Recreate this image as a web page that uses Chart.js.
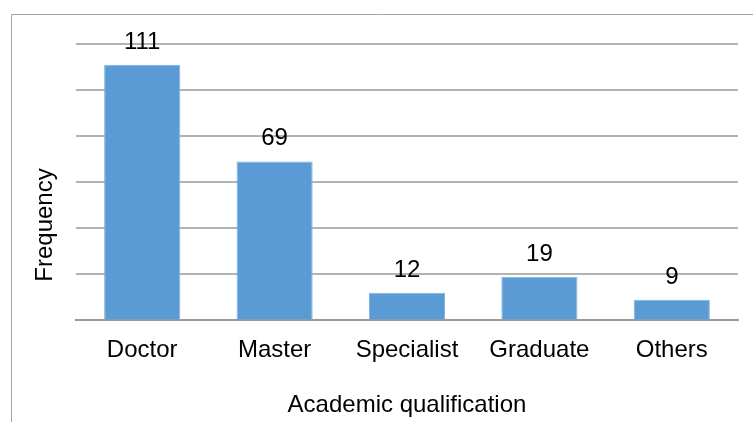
<!DOCTYPE html>
<html>
<head>
<meta charset="utf-8">
<script src="https://cdn.jsdelivr.net/npm/chart.js@4/dist/chart.umd.min.js"></script>
<style>
  html, body { margin: 0; padding: 0; background: #fff; }
  #wrap { width: 753px; height: 422px; }
</style>
</head>
<body>
<div id="wrap"><canvas id="chart-qual"></canvas></div>
<script>
const categories = ["Doctor", "Master", "Specialist", "Graduate", "Others"];
const frequencies = [111, 69, 12, 19, 9];
const yMax = 120;
const yStep = 20;
const yTitle = "Frequency";

const FONT = "'Liberation Sans', Arial, sans-serif";

// thin grey frame on the left and top edges, plus the vertical axis title
const framePlugin = {
  id: "frame",
  beforeDraw(chart) {
    const c = chart.ctx;
    c.save();
    c.strokeStyle = "#a6a6a6";
    c.lineWidth = 1;
    c.beginPath();
    c.moveTo(11.5, chart.height);
    c.lineTo(11.5, 14.5);
    c.lineTo(chart.width, 14.5);
    c.stroke();

    // y title sits a bit below the middle of the plot
    c.translate(45, 225);
    c.rotate(-Math.PI / 2);
    c.font = "24px " + FONT;
    c.fillStyle = "#000";
    c.textAlign = "center";
    c.textBaseline = "middle";
    c.fillText(yTitle, 0, 0);
    c.restore();
  },
};

// numbers above each bar
const valueLabels = {
  id: "valueLabels",
  afterDatasetsDraw(chart) {
    const c = chart.ctx;
    const meta = chart.getDatasetMeta(0);
    c.save();
    c.font = "24px " + FONT;
    c.fillStyle = "#000";
    c.textAlign = "center";
    c.textBaseline = "alphabetic";
    meta.data.forEach((bar, i) => {
      c.fillText(String(frequencies[i]), bar.x, bar.y - 16);
    });
    c.restore();
  },
};

new Chart(document.getElementById("chart-qual"), {
  type: "bar",
  data: {
    labels: categories,
    datasets: [
      {
        data: frequencies,
        backgroundColor: "#5b9bd5",
        borderColor: "#7fb1e0",
        borderWidth: 1,
        barPercentage: 0.575,
        categoryPercentage: 1,
      },
    ],
  },
  options: {
    responsive: true,
    maintainAspectRatio: false,
    animation: false,
    layout: {
      padding: { left: 76, right: 15, top: 44, bottom: 0 },
    },
    plugins: {
      legend: { display: false },
      tooltip: { enabled: false },
    },
    scales: {
      x: {
        grid: { display: false, drawTicks: false },
        border: { display: true, color: "#9a9a9a", width: 2 },
        ticks: {
          color: "#000",
          font: { family: FONT, size: 24 },
          padding: 16,
        },
        title: {
          display: true,
          text: "Academic qualification",
          color: "#000",
          font: { family: FONT, size: 24 },
          padding: { top: 10, bottom: 2 },
        },
      },
      y: {
        min: 0,
        max: yMax,
        ticks: { display: false, stepSize: yStep },
        grid: { color: "#b3b3b3", lineWidth: 2, drawTicks: false },
        border: { display: false },
        title: { display: false },
      },
    },
  },
  plugins: [framePlugin, valueLabels],
});
</script>
</body>
</html>
